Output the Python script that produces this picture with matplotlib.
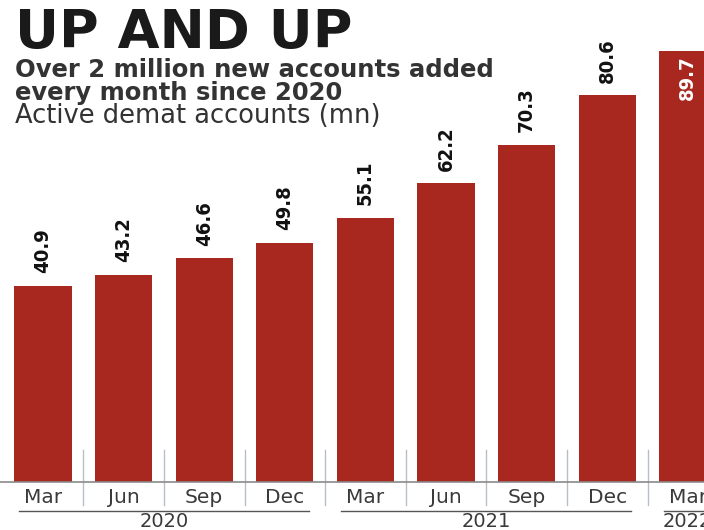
import matplotlib.pyplot as plt
from matplotlib.lines import Line2D

months = ["Mar", "Jun", "Sep", "Dec", "Mar", "Jun", "Sep", "Dec", "Mar"]
values = [40.9, 43.2, 46.6, 49.8, 55.1, 62.2, 70.3, 80.6, 89.7]
years = ["2020", "2021", "2022"]
year_spans = [(0, 3), (4, 7), (8, 11)]
year_centres = [1.5, 5.5, 8]

bar_color = "#a82820"

fig = plt.figure(figsize=(7.04, 5.30), dpi=100)
# axes bottom sits on the bar baseline, everything under it is drawn unclipped
ax = fig.add_axes([0, 48 / 530, 1, 482 / 530])
x = list(range(len(values)))
ax.bar(x, values, width=0.71, color=bar_color, zorder=2)
ax.set_xlim(-43 / 80.6, (704 - 43) / 80.6)
ax.set_ylim(0, 482 / 4.8)

for s in ["top", "right", "left"]:
    ax.spines[s].set_visible(False)
ax.spines["bottom"].set_color("#8a8a8a")
ax.spines["bottom"].set_linewidth(1.2)
ax.set_yticks([])
ax.set_xticks(x, months)
ax.tick_params(axis="x", length=0, pad=4, labelsize=14.5, labelcolor="#3a3a3a")

# value labels
for i, v in enumerate(values):
    if i == len(values) - 1:
        ax.text(i, v - 0.8, f"{v}", rotation=90, ha="center", va="top",
                color="white", fontsize=14.5, fontweight="bold",
                family="DejaVu Sans", fontstretch="condensed")
    else:
        ax.text(i, v + 2.6, f"{v}", rotation=90, ha="center", va="bottom",
                color="#111111", fontsize=14.5, fontweight="bold",
                family="DejaVu Sans", fontstretch="condensed")

# thin separators between months
for i in range(len(values)):
    ax.add_line(Line2D([i + 0.5, i + 0.5], [6.7, -4.8], color="#b7bec6",
                       lw=1.0, clip_on=False, zorder=1))

# year brackets
for yr, (a, b), c in zip(years, year_spans, year_centres):
    ax.add_line(Line2D([a - 0.3, b + 0.3], [-6.0, -6.0], color="#555555",
                       lw=1.0, clip_on=False))
    ax.text(c, -8.2, yr, ha="center", va="center", fontsize=14,
            color="#3a3a3a", clip_on=False)

fig.text(15 / 704, 1 - 48 / 530, "UP AND UP", fontsize=39, fontweight="heavy",
         color="#1a1a1a", va="baseline", ha="left")
fig.text(15 / 704, 1 - 77 / 530, "Over 2 million new accounts added", fontsize=17.5,
         fontweight="semibold", color="#333333", va="baseline", ha="left")
fig.text(15 / 704, 1 - 100 / 530, "every month since 2020", fontsize=17.5,
         fontweight="semibold", color="#333333", va="baseline", ha="left")
fig.text(15 / 704, 1 - 123 / 530, "Active demat accounts (mn)", fontsize=18.5,
         color="#333333", va="baseline", ha="left")

fig.savefig("out.png", dpi=100)
